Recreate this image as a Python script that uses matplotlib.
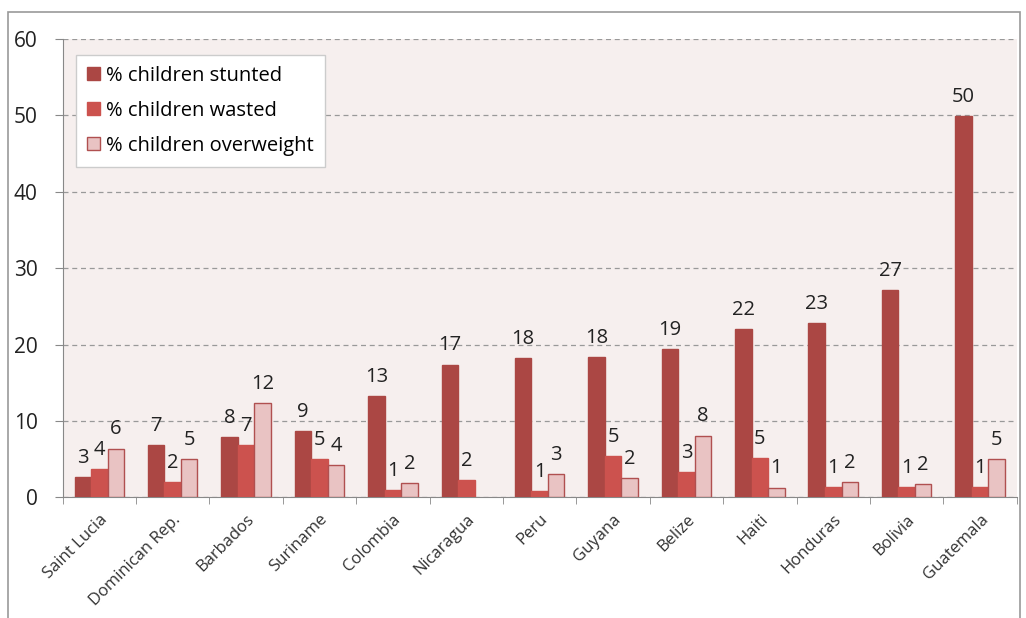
import matplotlib.pyplot as plt
import numpy as np

# Dados
paises = ['Saint Lucia', 'Dominican Rep.', 'Barbados', 'Suriname', 'Colombia',
          'Nicaragua', 'Peru', 'Guyana', 'Belize', 'Haiti', 'Honduras',
          'Bolivia', 'Guatemala']
stunted = [2.7, 6.9, 7.9, 8.7, 13.3, 17.4, 18.2, 18.4, 19.4, 22.0, 22.8, 27.1, 49.9]
wasted = [3.7, 2.0, 6.9, 5.0, 1.0, 2.3, 0.8, 5.4, 3.3, 5.2, 1.4, 1.4, 1.4]
overweight = [6.4, 5.0, 12.3, 4.2, 1.9, None, 3.1, 2.5, 8.1, 1.3, 2.0, 1.8, 5.0]

plt.rcParams['font.family'] = ['Open Sans', 'DejaVu Sans']

fig = plt.figure(figsize=(10.26, 6.18), dpi=100)
ax = fig.add_axes([0.061, 0.195, 0.930, 0.742])

# Moldura externa cinza
fig.patches.append(plt.Rectangle((0.008, -0.01), 0.986, 0.99, transform=fig.transFigure,
                                 fill=False, edgecolor='#999999', linewidth=1.2))

x = np.arange(len(paises))
largura = 0.225
series = [
    (stunted, '% children stunted', '#AB4744', '#AB4744'),
    (wasted, '% children wasted', '#CC524E', '#CC524E'),
    (overweight, '% children overweight', '#E9C3C3', '#B05050'),
]

for k, (valores, nome, cor, borda) in enumerate(series):
    xs = [xi + (k - 1) * largura for xi, v in zip(x, valores) if v is not None]
    vs = [v for v in valores if v is not None]
    ax.bar(xs, vs, largura, color=cor, edgecolor=borda, linewidth=1.0, label=nome, zorder=3)
    for xi, v in zip(xs, vs):
        ax.text(xi, v + 1.2, f'{round(v)}', ha='center', va='bottom', fontsize=14.5, color='#222222')

ax.set_facecolor('#F6EFEE')
ax.set_xlim(-0.5, len(paises) - 0.5)
ax.set_ylim(0, 60)
ax.set_yticks(range(0, 61, 10))
ax.yaxis.grid(True, linestyle=(0, (4, 3)), color='#999999', linewidth=0.9, zorder=0)
ax.set_xticks(x)
ax.set_xticklabels(paises, rotation=45, ha='right', rotation_mode='anchor', fontsize=12, color='#333333')
ax.set_xticks(np.arange(-0.5, len(paises), 1), minor=True)
ax.tick_params(axis='x', which='major', length=0, pad=10)
ax.tick_params(axis='x', which='minor', length=5, color='#888888')
ax.tick_params(axis='y', labelsize=15, length=6, color='#888888', labelcolor='#222222', pad=12)

for lado in ['top', 'right']:
    ax.spines[lado].set_visible(False)
ax.spines['left'].set_color('#888888')
ax.spines['bottom'].set_color('#888888')

leg = ax.legend(loc='upper left', bbox_to_anchor=(0.003, 0.988), fontsize=14.5, frameon=True,
                fancybox=False, edgecolor='#CCCCCC', facecolor='white', framealpha=1,
                handlelength=0.65, handleheight=0.65, handletextpad=0.3, labelspacing=0.75,
                borderpad=0.55)
leg.set_zorder(5)
for h in leg.get_patches():
    h.set_linewidth(1.0)

fig.savefig('out.png', dpi=100)
